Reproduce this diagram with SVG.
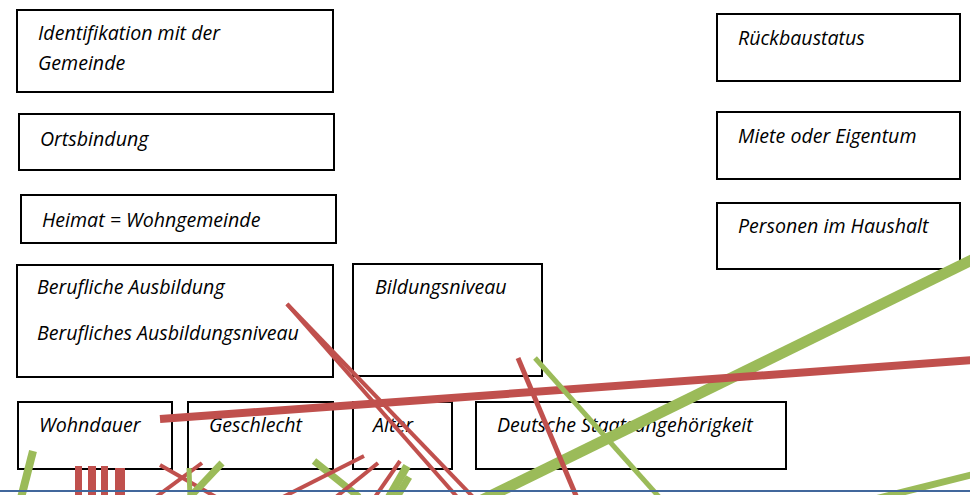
<svg xmlns="http://www.w3.org/2000/svg" width="970" height="495" viewBox="0 0 970 495">
  <style>
    .box { fill: #ffffff; stroke: #000000; stroke-width: 2; }
    .lbl { font-family: "Open Sans", "Noto Sans", "DejaVu Sans", sans-serif; font-style: italic; font-size: 19.6px; fill: #000000; }
    .red { stroke: #c0504d; fill: none; }
    .green { stroke: #9bbb59; fill: none; }
    .redbar { fill: #c0504d; }
  </style>
  <rect width="970" height="495" fill="#ffffff"/>

  <!-- left column -->
  <g id="identifikation">
    <rect class="box" x="17" y="10" width="316" height="82"/>
    <text class="lbl" x="38" y="40">Identifikation mit der</text>
    <text class="lbl" x="38" y="70">Gemeinde</text>
  </g>
  <g id="ortsbindung">
    <rect class="box" x="19" y="114" width="315" height="56"/>
    <text class="lbl" x="40" y="146">Ortsbindung</text>
  </g>
  <g id="heimat">
    <rect class="box" x="21" y="195" width="315" height="48"/>
    <text class="lbl" x="42" y="227">Heimat = Wohngemeinde</text>
  </g>
  <g id="berufliche-ausbildung">
    <rect class="box" x="17" y="265" width="316" height="112"/>
    <text class="lbl" x="37" y="294">Berufliche Ausbildung</text>
    <text class="lbl" x="37" y="340">Berufliches Ausbildungsniveau</text>
  </g>
  <g id="bildungsniveau">
    <rect class="box" x="353" y="264" width="189" height="112"/>
    <text class="lbl" x="375" y="294">Bildungsniveau</text>
  </g>

  <!-- bottom row -->
  <g id="wohndauer">
    <rect class="box" x="18" y="402" width="154" height="67"/>
    <text class="lbl" x="39" y="432">Wohndauer</text>
  </g>
  <g id="geschlecht">
    <rect class="box" x="188" y="402" width="145" height="67"/>
    <text class="lbl" x="209" y="432">Geschlecht</text>
  </g>
  <g id="alter">
    <rect class="box" x="353" y="402" width="99" height="67"/>
    <text class="lbl" x="373" y="432">Alter</text>
  </g>
  <g id="staatsangehoerigkeit">
    <rect class="box" x="476" y="402" width="310" height="67"/>
    <text class="lbl" x="497" y="432">Deutsche Staatsangehörigkeit</text>
  </g>

  <!-- right column -->
  <g id="rueckbaustatus">
    <rect class="box" x="717" y="14" width="243" height="67"/>
    <text class="lbl" x="738" y="45">Rückbaustatus</text>
  </g>
  <g id="miete-eigentum">
    <rect class="box" x="717" y="112" width="243" height="67"/>
    <text class="lbl" x="738" y="143">Miete oder Eigentum</text>
  </g>
  <g id="personen-haushalt">
    <rect class="box" x="717" y="203" width="243" height="66"/>
    <text class="lbl" x="738" y="233">Personen im Haushalt</text>
  </g>

  <!-- connectors -->
  <g id="connectors">
    <line class="green" x1="980" y1="256" x2="480" y2="501" stroke-width="11"/>
    <line class="red" x1="160" y1="419" x2="975" y2="360" stroke-width="8"/>
    <line class="red" x1="287" y1="304" x2="458" y2="498" stroke-width="4"/>
    <line class="red" x1="287" y1="304" x2="474" y2="498" stroke-width="4"/>
    <line class="red" x1="518" y1="358" x2="577" y2="498" stroke-width="5"/>
    <line class="green" x1="535" y1="358" x2="660" y2="498" stroke-width="5"/>
    <line class="green" x1="975" y1="474" x2="875" y2="499" stroke-width="7"/>

    <line class="green" x1="33" y1="451" x2="21" y2="498" stroke-width="8"/>
    <rect class="redbar" x="75" y="466" width="7" height="30"/>
    <rect class="redbar" x="88" y="466" width="8" height="30"/>
    <rect class="redbar" x="101" y="466" width="7" height="30"/>
    <rect class="redbar" x="115" y="468" width="10" height="28"/>
    <line class="red" x1="160" y1="465" x2="216" y2="497" stroke-width="4"/>
    <line class="red" x1="202" y1="463" x2="156" y2="497" stroke-width="4"/>
    <line class="green" x1="189" y1="468" x2="190" y2="497" stroke-width="5"/>
    <line class="green" x1="222" y1="463" x2="190" y2="497" stroke-width="7"/>

    <line class="green" x1="314" y1="461" x2="359" y2="497" stroke-width="7"/>
    <line class="red" x1="364" y1="456" x2="283" y2="497" stroke-width="4"/>
    <line class="red" x1="378" y1="463" x2="336" y2="497" stroke-width="4"/>
    <line class="red" x1="400" y1="461" x2="375" y2="497" stroke-width="4"/>
    <line class="green" x1="407" y1="466" x2="389" y2="497" stroke-width="8"/>
    <line class="green" x1="409" y1="477" x2="397" y2="497" stroke-width="7"/>

    <line x1="0" y1="491" x2="970" y2="491" stroke="#41679c" stroke-width="2"/>
  </g>
</svg>
